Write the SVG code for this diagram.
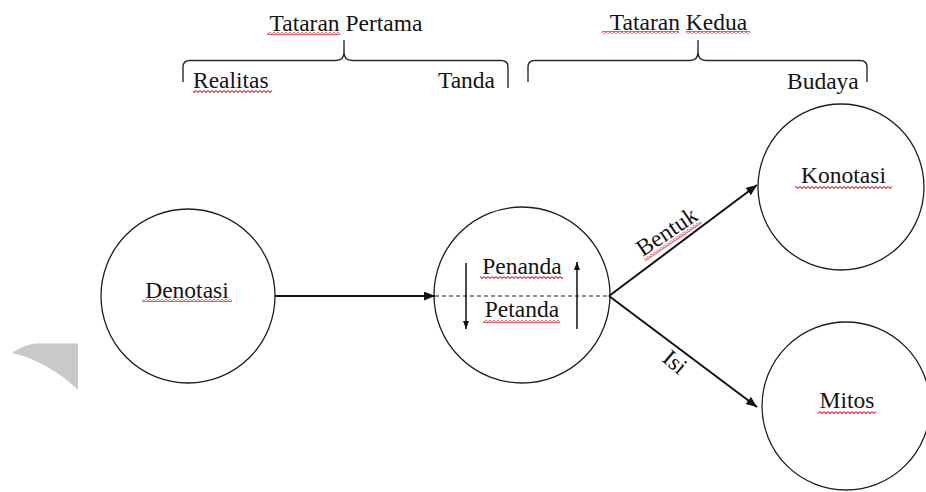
<svg xmlns="http://www.w3.org/2000/svg" width="926" height="492" viewBox="0 0 926 492">
  <style>
    .lbl { font-family: "Liberation Serif", "Times New Roman", serif; font-size: 23.5px; fill: #141414; }
    .mid { text-anchor: middle; }
    .node { fill: #ffffff; stroke: #1e1e1e; stroke-width: 1.3; }
    .brace { fill: none; stroke: #2a2a2a; stroke-width: 1.4; }
    .conn { fill: none; stroke: #111111; stroke-width: 2; }
    .thin { fill: none; stroke: #111111; stroke-width: 1.5; }
    .dash { fill: none; stroke: #222222; stroke-width: 1.1; stroke-dasharray: 4 3; }
    .squig { fill: url(#wave); }
  </style>
  <defs>
    <!-- spell-check style red wavy underline -->
    <pattern id="wave" patternUnits="userSpaceOnUse" width="4" height="3">
      <path d="M0,0.6 L2,2.4 L4,0.6" fill="none" stroke="#d42a34" stroke-width="1.1"/>
    </pattern>
    <marker id="head" markerUnits="userSpaceOnUse" markerWidth="12" markerHeight="10" refX="11" refY="4.5" orient="auto">
      <path d="M0,0 L11,4.5 L0,9 z" fill="#111111"/>
    </marker>
    <marker id="headSmall" markerUnits="userSpaceOnUse" markerWidth="9" markerHeight="7" refX="8" refY="3" orient="auto">
      <path d="M0,0 L8,3 L0,6 z" fill="#111111"/>
    </marker>
  </defs>

  <rect width="926" height="492" fill="#ffffff"/>

  <!-- faint grey mark at the left margin -->
  <path d="M78,343.5 L35,343.5 C25,345 16,350 12,353 C35,358 60,372 78,390 Z" fill="#c9c9c9"/>

  <!-- level headings with braces -->
  <g id="level-1">
    <text class="lbl mid" x="346" y="31">Tataran Pertama</text>
    <rect class="squig" x="267" y="32" width="73" height="3"/>
    <path class="brace" d="M183,82 L183,67 Q183,60.5 190,60.5 L336,60.5 Q344,60.5 344,52 L344,40 M344,52 Q344,60.5 352,60.5 L501,60.5 Q508,60.5 508,67 L508,88"/>
    <text class="lbl" x="193" y="88">Realitas</text>
    <rect class="squig" x="193" y="90" width="79" height="3"/>
    <text class="lbl" x="495" y="88" text-anchor="end">Tanda</text>
  </g>

  <g id="level-2">
    <text class="lbl mid" x="678.5" y="30">Tataran Kedua</text>
    <rect class="squig" x="602" y="31" width="77" height="3"/>
    <rect class="squig" x="686" y="31" width="64" height="3"/>
    <path class="brace" d="M528,82 L528,67 Q528,60.5 535,60.5 L690,60.5 Q698,60.5 698,52 L698,40 M698,52 Q698,60.5 706,60.5 L860,60.5 Q867,60.5 867,67 L867,82"/>
    <text class="lbl" x="787" y="89">Budaya</text>
  </g>

  <!-- connectors -->
  <g id="connectors">
    <line class="conn" x1="274" y1="296" x2="435" y2="296" marker-end="url(#head)"/>
    <line class="dash" x1="435" y1="296" x2="609" y2="296"/>
    <line class="thin" x1="466" y1="263" x2="466" y2="329" marker-end="url(#headSmall)"/>
    <line class="thin" x1="577" y1="329" x2="577" y2="262" marker-end="url(#headSmall)"/>
    <line class="conn" x1="609" y1="296" x2="757" y2="185" marker-end="url(#head)"/>
    <line class="conn" x1="609" y1="296" x2="757" y2="407" marker-end="url(#head)"/>
    <g transform="translate(671,238) rotate(-34)">
      <text class="lbl mid" x="0" y="0">Bentuk</text>
      <rect class="squig" x="-34" y="2" width="68" height="3"/>
    </g>
    <g transform="translate(670,368) rotate(40)">
      <text class="lbl mid" x="0" y="0">Isi</text>
    </g>
  </g>

  <!-- nodes -->
  <g id="denotasi">
    <circle class="node" cx="188" cy="296" r="87"/>
    <text class="lbl mid" x="187" y="298">Denotasi</text>
    <rect class="squig" x="142" y="299" width="90" height="3"/>
  </g>

  <g id="tanda">
    <circle class="node" cx="522" cy="295" r="88" style="fill:none"/>
    <text class="lbl mid" x="522" y="274">Penanda</text>
    <rect class="squig" x="480" y="276" width="83" height="3"/>
    <text class="lbl mid" x="522" y="317">Petanda</text>
    <rect class="squig" x="483" y="320" width="77" height="3"/>
  </g>

  <g id="konotasi">
    <circle class="node" cx="841" cy="187" r="83"/>
    <text class="lbl mid" x="843.5" y="183">Konotasi</text>
    <rect class="squig" x="795" y="186" width="97" height="3"/>
  </g>

  <g id="mitos">
    <circle class="node" cx="846" cy="406" r="84"/>
    <text class="lbl mid" x="847" y="408">Mitos</text>
    <rect class="squig" x="818" y="411" width="58" height="3"/>
  </g>
</svg>
